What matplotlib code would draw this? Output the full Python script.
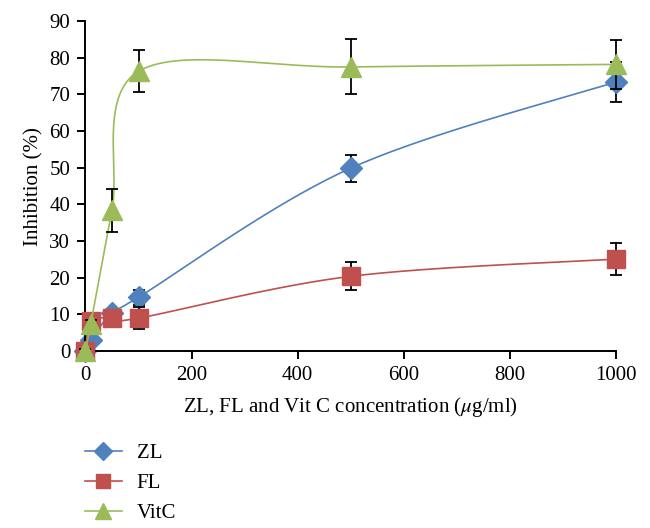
import numpy as np
import matplotlib
matplotlib.use("Agg")
import matplotlib.pyplot as plt

plt.rcParams['font.family'] = ['Liberation Serif', 'DejaVu Serif']
plt.rcParams['mathtext.fontset'] = 'stix'

conc = [0, 10, 50, 100, 500, 1000]

zl = [0, 3, 10.5, 14.7, 49.9, 73.4]
zl_err = [0.5, 1.0, 1.0, 2.0, 3.7, 5.4]

fl = [0, 8.2, 9.0, 9.0, 20.4, 25.1]
fl_err = [0.5, 1.0, 2.0, 2.9, 3.8, 4.3]

vitc = [0, 7.5, 38.4, 76.3, 77.5, 78.2]
vitc_err = [0.5, 1.0, 5.9, 5.7, 7.5, 6.7]

series_names = ['ZL', 'FL', 'VitC']
colors = ['#4F81BD', '#C0504D', '#9BBB59']
markers = ['D', 's', '^']
msizes = [11, 12.5, 14]


def smooth_curve(x, y, sx, sy, n=60):
    # excel-like smoothed line: catmull-rom bezier, done in pixel space
    px = np.asarray(x, float) * sx
    py = np.asarray(y, float) * sy
    pts = np.column_stack([px, py])
    out = []
    for i in range(len(pts) - 1):
        p0 = pts[i - 1] if i > 0 else pts[i]
        p1 = pts[i]
        p2 = pts[i + 1]
        p3 = pts[i + 2] if i + 2 < len(pts) else pts[i + 1]
        c1 = p1 + (p2 - p0) / 6.0
        c2 = p2 - (p3 - p1) / 6.0
        t = np.linspace(0, 1, n)[:, None]
        seg = ((1 - t) ** 3) * p1 + 3 * ((1 - t) ** 2) * t * c1 + 3 * (1 - t) * t ** 2 * c2 + t ** 3 * p2
        out.append(seg if i == 0 else seg[1:])
    out = np.vstack(out)
    return out[:, 0] / sx, out[:, 1] / sy


fig = plt.figure(figsize=(6.5, 5.28), dpi=100)
ax = fig.add_axes([0.1315, 0.335, 0.816, 0.625])

# pixel scales (px per data unit) for smoothing
sx = 530 / 1000.0
sy = 330 / 90.0

data = [(zl, zl_err), (fl, fl_err), (vitc, vitc_err)]
for k, (vals, errs) in enumerate(data):
    cx, cy = smooth_curve(conc, vals, sx, sy)
    ax.plot(cx, cy, color=colors[k], lw=1.2, zorder=2 + k, clip_on=False)
    ax.errorbar(conc, vals, yerr=errs, fmt='none', ecolor='black', elinewidth=1.3,
                capsize=4, capthick=1.3, zorder=2 + k, clip_on=False)
    ax.plot(conc, vals, linestyle='none', marker=markers[k], ms=msizes[k],
            color=colors[k], mec=colors[k], zorder=2.5 + k, clip_on=False)

ax.set_xlim(0, 1000)
ax.set_ylim(0, 90)
ax.set_xticks([0, 200, 400, 600, 800, 1000])
ax.set_yticks(range(0, 91, 10))

for s in ['top', 'right']:
    ax.spines[s].set_visible(False)
for s in ['left', 'bottom']:
    ax.spines[s].set_linewidth(1.4)
ax.tick_params(direction='out', length=6, width=1.4, labelsize=15, pad=5)

ax.set_xlabel(r'ZL, FL and Vit C concentration ($\mu$g/ml)', fontsize=15, labelpad=7)
ax.set_ylabel('Inhibition (%)', fontsize=15, labelpad=4)

handles = []
for k in range(3):
    line, = ax.plot([], [], color=colors[k], lw=1.2, marker=markers[k],
                    ms=msizes[k] * 0.8, mec=colors[k])
    handles.append(line)
fig.legend(handles, series_names, loc='upper left', bbox_to_anchor=(0.13, 0.16),
           frameon=False, fontsize=15, handlelength=1.8, handletextpad=0.7,
           labelspacing=0.5, borderaxespad=0, borderpad=0)

fig.savefig('out.png', dpi=100)
